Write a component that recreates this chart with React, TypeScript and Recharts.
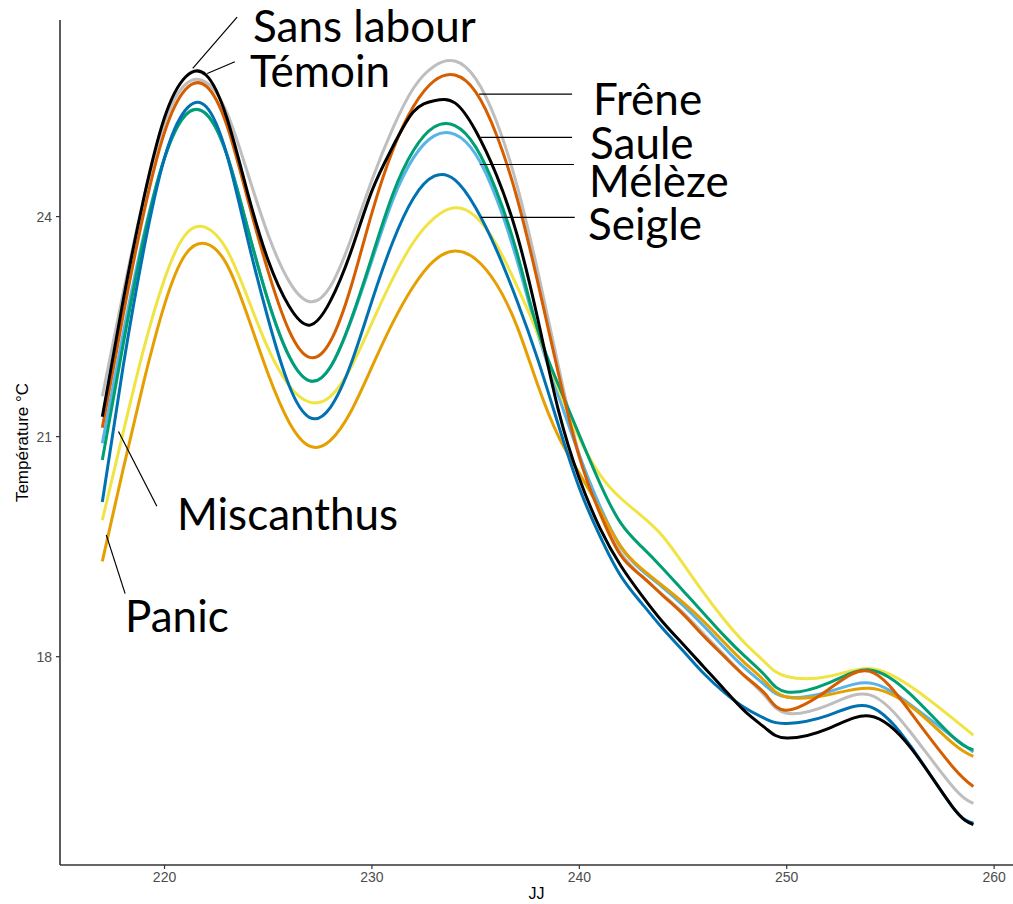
import React from 'react';
import { LineChart, Line, XAxis, YAxis, ReferenceLine } from 'recharts';

// Jour julien (JJ) sample points
const days = [
  217, 218, 219, 220, 221, 222, 223, 224, 225, 226, 227, 228, 229, 230, 231, 232, 233,
  234, 235, 236, 237, 238, 239, 240, 241, 242, 243, 244, 245, 246, 247, 248, 249, 250,
  252, 254, 256, 258, 259,
];

// Smoothed soil temperature (°C) per treatment
const temoin = [
  21.55, 22.95, 24.25, 25.28, 25.8, 25.83, 25.42, 24.6, 23.75, 23.12, 22.84, 23.05, 23.7, 24.5, 25.2, 25.75, 26.05,
  26.12, 25.88, 25.3, 24.42, 23.25, 21.95, 20.75, 19.98, 19.42, 19.1, 18.85, 18.6, 18.31, 18.02, 17.73, 17.45, 17.23,
  17.34, 17.48, 16.96, 16.23, 16.0,
];
const meleze = [
  20.91, 22.4, 23.75, 24.8, 25.38, 25.4, 24.85, 23.85, 22.85, 22.1, 21.76, 21.95, 22.58, 23.4, 24.22, 24.8, 25.1,
  25.12, 24.85, 24.25, 23.4, 22.4, 21.55, 20.75, 20.05, 19.5, 19.18, 18.95, 18.7, 18.42, 18.12, 17.84, 17.6, 17.45,
  17.52, 17.64, 17.34, 16.91, 16.7,
];
const panic = [
  19.3, 20.55, 21.75, 22.8, 23.48, 23.63, 23.35, 22.65, 21.85, 21.2, 20.87, 20.95, 21.35, 21.95, 22.55, 23.05, 23.4,
  23.53, 23.42, 23.08, 22.5, 21.7, 21.0, 20.5, 20.0, 19.5, 19.2, 18.97, 18.74, 18.48, 18.19, 17.91, 17.65, 17.45,
  17.48, 17.57, 17.32, 16.82, 16.64,
];
const miscanthus = [
  19.86, 21.05, 22.2, 23.15, 23.75, 23.85, 23.55, 22.9, 22.2, 21.7, 21.47, 21.55, 21.95, 22.55, 23.15, 23.65, 23.98,
  24.12, 24.0, 23.62, 23.05, 22.4, 21.65, 20.98, 20.48, 20.16, 19.92, 19.65, 19.27, 18.87, 18.5, 18.18, 17.91, 17.73,
  17.73, 17.84, 17.59, 17.16, 16.93,
];
const saule = [
  20.68, 22.25, 23.7, 24.8, 25.38, 25.4, 24.85, 23.85, 22.85, 22.1, 21.76, 21.95, 22.6, 23.45, 24.3, 24.9, 25.22,
  25.24, 24.95, 24.35, 23.5, 22.45, 21.7, 21.02, 20.36, 19.82, 19.5, 19.21, 18.9, 18.59, 18.28, 18.0, 17.73, 17.52,
  17.64, 17.82, 17.48, 16.91, 16.73,
];
const seigle = [
  20.11, 21.95, 23.55, 24.8, 25.45, 25.5, 24.85, 23.7, 22.6, 21.7, 21.26, 21.4, 22.0, 22.85, 23.65, 24.25, 24.55,
  24.5, 24.12, 23.55, 22.85, 22.05, 21.15, 20.3, 19.64, 19.1, 18.73, 18.39, 18.08, 17.77, 17.51, 17.3, 17.15, 17.09,
  17.2, 17.32, 16.77, 15.95, 15.73,
];
const frene = [
  21.12, 22.65, 24.05, 25.15, 25.73, 25.78, 25.25, 24.25, 23.25, 22.45, 22.08, 22.3, 23.05, 24.05, 24.9, 25.5, 25.85,
  25.93, 25.7, 25.12, 24.25, 23.1, 21.85, 20.72, 19.95, 19.38, 19.1, 18.84, 18.58, 18.28, 18.0, 17.73, 17.48, 17.27,
  17.55, 17.8, 17.23, 16.5, 16.23,
];
const sansLabour = [
  21.27, 22.85, 24.25, 25.35, 25.9, 25.93, 25.35, 24.33, 23.4, 22.78, 22.52, 22.85, 23.53, 24.35, 24.95, 25.43, 25.58,
  25.55, 25.17, 24.57, 23.75, 22.6, 21.35, 20.43, 19.75, 19.24, 18.84, 18.48, 18.17, 17.86, 17.55, 17.25, 17.02, 16.89,
  17.02, 17.19, 16.75, 15.95, 15.71,
];

const xTicks = [220, 230, 240, 250, 260];
const yTicks = [18, 21, 24];

// drawing order: last one ends up on top
const series = [
  { key: 'temoin', name: 'Témoin', color: '#BEBEBE', values: temoin },
  { key: 'meleze', name: 'Mélèze', color: '#56B4E9', values: meleze },
  { key: 'panic', name: 'Panic', color: '#E69F00', values: panic },
  { key: 'miscanthus', name: 'Miscanthus', color: '#F0E442', values: miscanthus },
  { key: 'saule', name: 'Saule', color: '#009E73', values: saule },
  { key: 'seigle', name: 'Seigle', color: '#0072B2', values: seigle },
  { key: 'frene', name: 'Frêne', color: '#D55E00', values: frene },
  { key: 'sansLabour', name: 'Sans labour', color: '#000000', values: sansLabour },
];

const data = days.map((jj, i) => {
  const row: Record<string, number> = { jj };
  series.forEach((s) => {
    row[s.key] = s.values[i];
  });
  return row;
});

// leader lines from each curve to its label, in data units [jj1, t1, jj2, t2]
const leaders: [number, number, number, number][] = [
  [223.5, 26.72, 221.36, 26.02],
  [223.39, 26.11, 222.06, 25.95],
  [235.17, 25.67, 239.65, 25.67],
  [235.25, 25.08, 239.65, 25.08],
  [235.2, 24.71, 239.74, 24.71],
  [235.25, 23.99, 239.78, 23.99],
  [217.78, 21.07, 219.63, 20.05],
  [217.19, 19.66, 218.1, 18.86],
];

// label text placement (px, left / baseline)
const labelText = [
  { text: 'Sans labour', x: 253, y: 42 },
  { text: 'Témoin', x: 250, y: 87 },
  { text: 'Frêne', x: 593, y: 115 },
  { text: 'Saule', x: 590, y: 159 },
  { text: 'Mélèze', x: 589, y: 197 },
  { text: 'Seigle', x: 588, y: 240 },
  { text: 'Miscanthus', x: 177, y: 530 },
  { text: 'Panic', x: 125, y: 632 },
];

const W = 1013;
const H = 904;
const axisFont = 'Liberation Sans, Arial, sans-serif';

const YTitle = (props: any) => {
  const vb = props.viewBox || { x: 0, y: 0, width: 0, height: 0 };
  const cx = vb.x + 22;
  const cy = vb.y + vb.height / 2;
  return (
    <text
      x={cx}
      y={cy}
      transform={`rotate(-90 ${cx} ${cy})`}
      textAnchor="middle"
      dominantBaseline="central"
      fontSize={17}
      fontFamily={axisFont}
      fill="#000"
    >
      Température °C
    </text>
  );
};

const XTitle = (props: any) => {
  const vb = props.viewBox || { x: 0, y: 0, width: 0, height: 0 };
  return (
    <text
      x={vb.x + vb.width / 2}
      y={vb.y + 28}
      textAnchor="middle"
      dominantBaseline="central"
      fontSize={16}
      fontFamily={axisFont}
      fill="#000"
    >
      JJ
    </text>
  );
};

export default function App() {
  return (
    <div style={{ position: 'absolute', left: 0, top: 0, width: W, height: H, background: '#fff' }}>
      <LineChart width={W} height={H} data={data} margin={{ top: 20, right: 0, bottom: 0, left: 0 }}>
        <XAxis
          type="number"
          dataKey="jj"
          domain={[214.96, 260.91]}
          ticks={xTicks}
          allowDataOverflow
          height={39}
          tickSize={4}
          tickMargin={3}
          tick={{ fill: '#4D4D4D', fontSize: 14, fontFamily: axisFont }}
          axisLine={{ stroke: '#333', strokeWidth: 1.6 }}
          tickLine={{ stroke: '#333', strokeWidth: 1.2 }}
          label={<XTitle />}
        />
        <YAxis
          type="number"
          domain={[15.16, 26.68]}
          ticks={yTicks}
          allowDataOverflow
          width={60}
          tickSize={4}
          tickMargin={4}
          tick={{ fill: '#4D4D4D', fontSize: 14, fontFamily: axisFont }}
          axisLine={{ stroke: '#333', strokeWidth: 1.6 }}
          tickLine={{ stroke: '#333', strokeWidth: 1.2 }}
          label={<YTitle />}
        />
        {series.map((s) => (
          <Line
            key={s.key}
            name={s.name}
            type="natural"
            dataKey={s.key}
            stroke={s.color}
            strokeWidth={3}
            dot={false}
            activeDot={false}
            isAnimationActive={false}
          />
        ))}
        {leaders.map((l, i) => (
          <ReferenceLine
            key={i}
            segment={[
              { x: l[0], y: l[1] },
              { x: l[2], y: l[3] },
            ]}
            stroke="#000"
            strokeWidth={1.2}
            ifOverflow="visible"
          />
        ))}
      </LineChart>
      <svg
        width={W}
        height={H}
        style={{ position: 'absolute', left: 0, top: 0, pointerEvents: 'none' }}
      >
        {labelText.map((l) => (
          <text key={l.text} x={l.x} y={l.y} fontSize={44} fontFamily="Lato, sans-serif" fill="#000">
            {l.text}
          </text>
        ))}
      </svg>
    </div>
  );
}
